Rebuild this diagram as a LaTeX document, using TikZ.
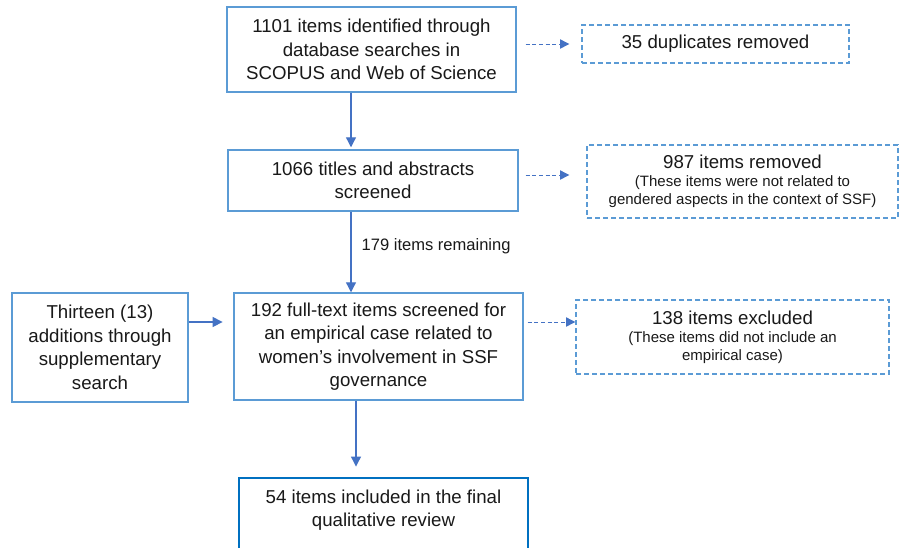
\documentclass[tikz,border=0pt]{standalone}
\usepackage{fontspec}
\setmainfont{Liberation Sans}
\usetikzlibrary{arrows.meta}
\definecolor{boxblue}{RGB}{91,155,213}
\definecolor{arrowblue}{RGB}{68,114,196}
\definecolor{finalblue}{RGB}{0,112,192}
\newcommand{\notefont}{\fontsize{11.25}{13.5}\selectfont}

\begin{document}
\begin{tikzpicture}[x=0.75pt, y=-0.75pt,
  stage/.style={draw=boxblue, line width=1.1pt, align=flush center, inner sep=0pt,
    text=black!90, font=\fontsize{14}{17.6}\selectfont},
  removed/.style={stage, line width=1pt, dash pattern=on 4pt off 2pt},
  flow/.style={draw=arrowblue, line width=0.9pt, -{Triangle[length=7.5pt,width=7.5pt]}},
  skip/.style={draw=arrowblue, line width=0.75pt, dash pattern=on 3pt off 2pt,
    -{Triangle[length=7pt,width=7pt]}}]
  \fill[white] (0,0) rectangle (899,547);
  \useasboundingbox (0,0) rectangle (899,547);
  % main column
  \node[stage, text width=216.75pt, minimum height=63.75pt] (search) at (371.5,49.5)
    {1101 items identified through\\database searches in\\SCOPUS and Web of Science};
  \node[stage, text width=217.5pt, minimum height=45.75pt] (screen) at (373,180.5)
    {1066 titles and abstracts\\screened};
  \node[stage, text width=216.75pt, minimum height=80.25pt] (fulltext) at (378.5,346.5)
    {192 full-text items screened for\\an empirical case related to\\women’s involvement in SSF\\governance};
  \node[stage, draw=finalblue, line width=2.2pt, text width=216.75pt, minimum height=63pt] (final) at (383.5,520)
    {54 items included in the final\\qualitative review\\\mbox{}};
  \node[stage, text width=132pt, minimum height=81.75pt] (extra) at (100,347.5)
    {Thirteen (13)\\additions through\\supplementary\\search};
  % removed items
  \node[removed, text width=200.25pt, minimum height=28.5pt] (dupl) at (715.5,44)
    {35 duplicates removed};
  \node[removed, text width=233.25pt, minimum height=54.75pt] (notrel) at (742.5,181.5)
    {987 items removed\\{\notefont (These items were not related to\\gendered aspects in the context of SSF)\par}};
  \node[removed, text width=234.75pt, minimum height=55.5pt] (noempir) at (732.5,337)
    {138 items excluded\\{\notefont (These items did not include an\\empirical case)\par}};
  \node[anchor=west, text=black!90, font=\fontsize{12.4}{15}\selectfont] (remain) at (357,246) {179 items remaining};
  % arrow lines
  \coordinate (ya) at (0,44);
  \coordinate (yb) at (0,175);
  \coordinate (yc) at (0,322);
  \coordinate (xa) at (351,0);
  \coordinate (xb) at (356,0);
  \draw[flow, shorten >=1.5pt] (xa |- search.south) -- (xa |- screen.north);
  \draw[flow] (xa |- screen.south) -- (xa |- fulltext.north);
  \draw[flow, shorten >=7.5pt] (xb |- fulltext.south) -- (xb |- final.north);
  \draw[flow, shorten >=8pt] (extra.east |- yc) -- (fulltext.west |- yc);
  \draw[skip, shorten <=6.75pt, shorten >=9pt] (search.east |- ya) -- (dupl.west |- ya);
  \draw[skip, shorten <=5.25pt, shorten >=12.75pt] (screen.east |- yb) -- (notrel.west |- yb);
  \draw[skip, shorten <=3pt] (fulltext.east |- yc) -- (noempir.west |- yc);
\end{tikzpicture}
\end{document}
